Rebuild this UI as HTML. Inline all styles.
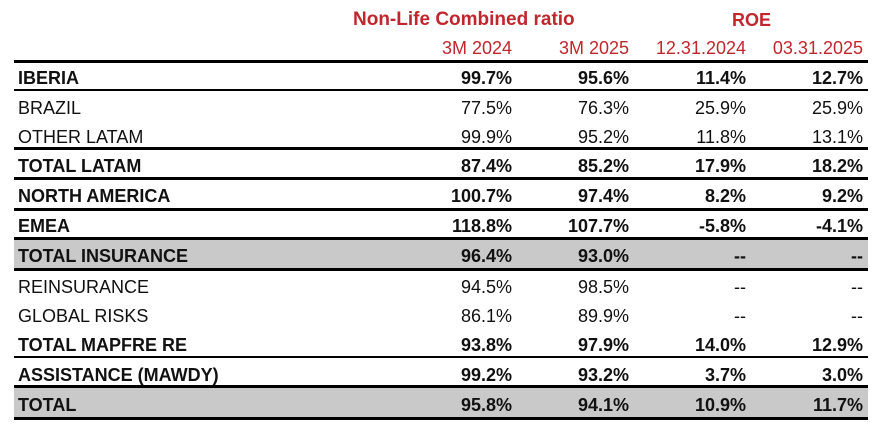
<!DOCTYPE html>
<html><head><meta charset="utf-8"><style>
*{margin:0;padding:0;box-sizing:border-box}
html,body{width:892px;height:437px;background:#fff;overflow:hidden}
body{position:relative;font-family:"Liberation Sans",Arial,sans-serif;color:#111;font-size:18px}
.l{position:absolute;left:14px;width:854px;background:#000}
.g{position:absolute;left:14px;width:854px;background:#c9c9c9}
.r{position:absolute;left:0;width:892px;height:30px;line-height:30px}
.r span{position:absolute;white-space:nowrap}
.r .a{left:18px}
.r .c1{right:380px}
.r .c2{right:263px}
.r .c3{right:146px}
.r .c4{right:29px}
.b{font-weight:bold}
.h{color:#c0272d}
</style></head><body>
<div class="g" style="top:240px;height:28px"></div>
<div class="g" style="top:388px;height:29px"></div>
<div class="l" style="top:60px;height:3px"></div>
<div class="l" style="top:89px;height:2px"></div>
<div class="l" style="top:147px;height:3px"></div>
<div class="l" style="top:177px;height:3px"></div>
<div class="l" style="top:208px;height:3px"></div>
<div class="l" style="top:237px;height:3px"></div>
<div class="l" style="top:268px;height:3px"></div>
<div class="l" style="top:356px;height:2px"></div>
<div class="l" style="top:385px;height:3px"></div>
<div class="l" style="top:417px;height:3px"></div>

<div class="r h b" style="top:5px"><span style="left:353px;font-size:19px">Non-Life Combined ratio</span><span style="left:732px">ROE</span></div>
<div class="r h" style="top:33px"><span class="c1">3M 2024</span><span class="c2">3M 2025</span><span class="c3">12.31.2024</span><span class="c4">03.31.2025</span></div>

<div class="r b" style="top:63px"><span class="a">IBERIA</span><span class="c1">99.7%</span><span class="c2">95.6%</span><span class="c3">11.4%</span><span class="c4">12.7%</span></div>
<div class="r" style="top:93px"><span class="a">BRAZIL</span><span class="c1">77.5%</span><span class="c2">76.3%</span><span class="c3">25.9%</span><span class="c4">25.9%</span></div>
<div class="r" style="top:122px"><span class="a">OTHER LATAM</span><span class="c1">99.9%</span><span class="c2">95.2%</span><span class="c3">11.8%</span><span class="c4">13.1%</span></div>
<div class="r b" style="top:151px"><span class="a">TOTAL LATAM</span><span class="c1">87.4%</span><span class="c2">85.2%</span><span class="c3">17.9%</span><span class="c4">18.2%</span></div>
<div class="r b" style="top:181px"><span class="a">NORTH AMERICA</span><span class="c1">100.7%</span><span class="c2">97.4%</span><span class="c3">8.2%</span><span class="c4">9.2%</span></div>
<div class="r b" style="top:211px"><span class="a">EMEA</span><span class="c1">118.8%</span><span class="c2">107.7%</span><span class="c3">-5.8%</span><span class="c4">-4.1%</span></div>
<div class="r b" style="top:241px"><span class="a">TOTAL INSURANCE</span><span class="c1">96.4%</span><span class="c2">93.0%</span><span class="c3">--</span><span class="c4">--</span></div>
<div class="r" style="top:272px"><span class="a">REINSURANCE</span><span class="c1">94.5%</span><span class="c2">98.5%</span><span class="c3">--</span><span class="c4">--</span></div>
<div class="r" style="top:301px"><span class="a">GLOBAL RISKS</span><span class="c1">86.1%</span><span class="c2">89.9%</span><span class="c3">--</span><span class="c4">--</span></div>
<div class="r b" style="top:330px"><span class="a">TOTAL MAPFRE RE</span><span class="c1">93.8%</span><span class="c2">97.9%</span><span class="c3">14.0%</span><span class="c4">12.9%</span></div>
<div class="r b" style="top:360px"><span class="a">ASSISTANCE (MAWDY)</span><span class="c1">99.2%</span><span class="c2">93.2%</span><span class="c3">3.7%</span><span class="c4">3.0%</span></div>
<div class="r b" style="top:390px"><span class="a">TOTAL</span><span class="c1">95.8%</span><span class="c2">94.1%</span><span class="c3">10.9%</span><span class="c4">11.7%</span></div>
</body></html>
